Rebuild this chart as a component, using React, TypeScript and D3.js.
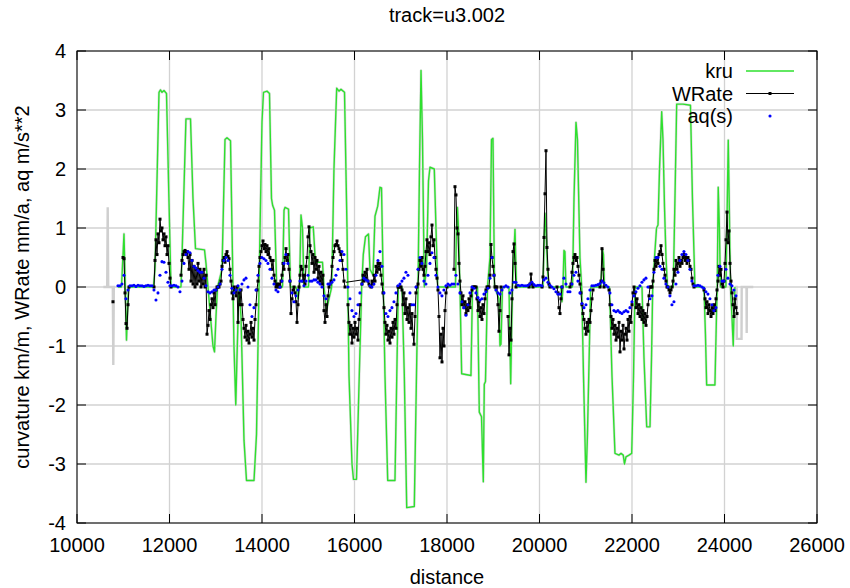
import React from "react";
import * as d3 from "d3";

const xTickValues = [10000, 12000, 14000, 16000, 18000, 20000, 22000, 24000, 26000];
const yTickValues = [-4, -3, -2, -1, 0, 1, 2, 3, 4];
const titleText = "track=u3.002";
const xLabelText = "distance";
const yLabelText = "curvature km/m, WRate mm/a, aq m/s**2";
const legendLabels = ["kru", "WRate", "aq(s)"];

// kru (curvature) polyline: [distance, value]
const kruPoints: [number, number][] = [
  [10886, 0], [10962, 0], [11016, 0.9], [11038, 0.2], [11070, -0.9], [11113, 0], [11654, 0], [11686, 0.3],
  [11773, 3.3], [11805, 3.34], [11838, 3.3], [11881, 3.33], [11935, 3.28], [12032, 0], [12248, 0], [12270, 0.5],
  [12356, 2.85], [12454, 2.85], [12508, 1.5], [12562, 0.65], [12757, 0.63], [12789, 0.4], [12832, 0], [12940, -1.0],
  [12973, -1.1], [13005, -0.5], [13038, 0], [13135, 0.3], [13200, 2.5], [13243, 2.53], [13319, 2.48], [13362, 0.5],
  [13394, -1.0], [13433, -2.0], [13459, -1.2], [13502, 0], [13546, -0.5], [13611, -2.6], [13665, -3.28], [13827, -3.28],
  [13881, -2.5], [13935, 0], [14000, 2.8], [14032, 3.3], [14108, 3.32], [14162, 3.28], [14205, 1.5], [14231, 1.38],
  [14270, 1.3], [14318, 0], [14443, 0], [14476, 1.3], [14497, 1.35], [14573, 1.32], [14616, 0], [14735, 0],
  [14778, -0.2], [14811, 0], [14843, 1.22], [14876, 1.0], [14908, 0], [15005, 0], [15037, 1.0], [15108, 1.02],
  [15156, 0.42], [15308, 0.42], [15340, 0], [15394, -0.4], [15448, -0.2], [15507, 0], [15556, 2.0], [15615, 3.37],
  [15664, 3.32], [15708, 3.35], [15784, 3.3], [15838, 1.0], [15881, -1.5], [15946, -3.0], [15978, -3.26], [16043, -3.26],
  [16086, -2.0], [16155, 0], [16190, 0.55], [16237, 0.85], [16302, 0.9], [16335, 0.3], [16400, 0.2], [16443, 1.2],
  [16502, 1.37], [16551, 1.69], [16584, 1.68], [16623, 0], [16659, -1.5], [16718, -3.28], [16875, -3.28], [16947, 0],
  [17027, 0], [17077, -1.5], [17129, -3.74], [17293, -3.72], [17340, -1.5], [17373, 0], [17405, 2.0], [17438, 3.67],
  [17470, 2.5], [17509, 0], [17556, 0.3], [17600, 1.8], [17632, 2.03], [17725, 2.0], [17799, 0], [18183, 0],
  [18205, 1.0], [18226, 1.35], [18248, 1.0], [18280, 0], [18317, -1.47], [18518, -1.5], [18551, 0], [18659, 0],
  [18698, -2.12], [18746, -2.2], [18785, -3.3], [18806, -1.65], [18832, -1.6], [18875, 0], [18929, 0.5], [18962, 2.5],
  [18994, 2.52], [19027, 0], [19124, -0.2], [19145, -1.0], [19167, -0.97], [19199, 0], [19340, 0], [19377, -1.64],
  [19416, 0], [19448, 0.6], [19470, 0.98], [19502, 0], [20075, 0], [20118, 1.25], [20151, 0.8], [20172, 0.3],
  [20205, 0], [20464, 0], [20486, -0.25], [20507, 0], [20529, 0.62], [20550, 0.6], [20572, 0], [20713, 0],
  [20746, 1.5], [20789, 2.79], [20821, 2.5], [20875, 0.5], [20912, 0], [20951, -1.5], [21005, -3.31], [21037, -2.5],
  [21107, 0], [21329, 0], [21362, 0.64], [21383, 0.55], [21405, 0], [21513, 0], [21567, -1.5], [21632, -2.82],
  [21718, -2.85], [21762, -2.82], [21811, -2.85], [21837, -3.0], [21870, -2.88], [21935, -2.85], [21994, -2.82], [22033, -1.5],
  [22065, 0], [22216, 0], [22259, -1.2], [22318, -2.37], [22389, -2.37], [22422, -1.2], [22448, 0], [22487, 0.5],
  [22530, 1.0], [22562, 1.05], [22595, 2.0], [22642, 2.97], [22670, 2.5], [22703, 1.35], [22735, 0.5], [22767, 0],
  [22892, 0], [22929, 1.5], [22966, 3.1], [23102, 3.1], [23264, 3.08], [23307, 1.5], [23361, 0], [23556, 0],
  [23588, -0.8], [23614, -1.66], [23793, -1.66], [23826, -0.5], [23843, 0], [23864, 1.69], [23890, 1.0], [23912, 0],
  [24031, 0], [24081, 2.49], [24107, 1.2], [24129, 0], [24161, -0.5], [24189, -1.0], [24204, -0.5], [24226, 0],
];

// grey reference trace outside the kru range
const grayStart: [number, number][] = [
  [10569, 0], [10653, 0], [10664, 1.35], [10675, 0], [10774, 0], [10785, -1.32], [10796, 0], [10822, 0],
];
const grayEnd: [number, number][] = [
  [24226, 0], [24262, 0], [24266, -0.88], [24368, -0.88], [24372, 0], [24476, 0], [24480, -0.78], [24484, 0], [24622, 0],
];

// WRate runs: start distance, sample spacing, values
const wrateRunStart = [10778, 10995, 11665, 12249, 15816, 15859, 16162, 18151, 19319, 19773, 20054, 20378, 20659, 21308, 21503, 23557];
const wrateRunStep = [21.62, 21.62, 21.62, 21.62, 346, 21.62, 21.62, 21.62, 21.62, 21.62, 21.62, 21.62, 21.62, 21.62, 21.62, 21.62];
const wrateRuns: number[][] = [
  [-0.25],
  [0.5, 0.48, -0.1, -0.62, -0.7, -0.3, 0.0],
  [0.0, 0.45, 0.8, 0.55, 0.9, 0.75, 1.15, 0.95, 1.0, 0.8, 0.9, 0.7, 0.85, 0.55, 0.7, 0.4, 0.15, 0.0],
  [
    0.2, 0.45, 0.55, 0.6, 0.62, 0.55, 0.6, 0.5, 0.3, 0.55,
    0.1, 0.45, 0.05, 0.35, 0.0, 0.3, 0.05, 0.4, 0.1, 0.3,
    0.0, 0.25, 0.05, 0.3, 0.0, 0.2, -0.8, -0.65, -0.4, -0.55,
    -0.3, -0.2, -0.35, -0.1, -0.3, -0.05, 0.0, 0.0, 0.0, 0.05,
    0.1, 0.35, 0.45, 0.5, 0.42, 0.55, 0.6, 0.52, 0.48, 0.3,
    0.1, -0.1, -0.2, 0.0, -0.05, -0.15, 0.0, -0.6, -0.1, -0.3,
    -0.05, -0.3, -0.55, -0.7, -0.85, -0.65, -0.9, -0.75, -0.95, -0.8,
    -0.6, -0.85, -0.7, -0.9, -0.55, -0.3, -0.05, 0.1, 0.35, 0.5,
    0.6, 0.7, 0.78, 0.65, 0.72, 0.6, 0.7, 0.55, 0.65, 0.5,
    0.45, 0.3, 0.45, 0.2, 0.1, 0.0, 0.05, 0.0, 0.05, 0.0,
    0.1, 0.2, 0.4, 0.3, 0.5, 0.65, 0.45, 0.55, 0.3, 0.1,
    -0.45, -0.2, -0.05, 0.0, -0.1, -0.25, -0.6, -0.3, 0.0, 0.2,
    0.35, 0.3, 0.1, 0.2, 0.05, 0.35, 0.5, 0.85, 1.02, 0.7,
    0.6, 0.4, 0.55, 0.25, 0.5, 0.3, 0.45, 0.15, 0.35, 0.1,
    0.25, 0.05, 0.2, -0.4, -0.6, -0.3, -0.5, -0.15, 0.0, 0.05,
    0.1, 0.35, 0.5, 0.6, 0.7, 0.72, 0.78, 0.7, 0.65, 0.6,
    0.55, 0.45, 0.3, 0.1, 0.0,
  ],
  [0.08, 0.12],
  [-0.3, -0.6, -0.8, -0.65, -0.95, -0.7, -0.85, -0.6, -0.8, -0.7, -0.9, -0.55, -0.3],
  [
    0.05, 0.2, 0.1, 0.25, 0.15, 0.3, 0.1, 0.05, 0.02, 0.0,
    0.1, 0.05, 0.2, 0.1, 0.35, 0.25, 0.4, 0.3, 0.4, 0.2,
    0.05, -0.1, -0.35, -0.6, -0.8, -0.65, -0.9, -0.75, -0.95, -0.7,
    -0.85, -0.6, -0.8, -0.55, -0.7, -0.3, 0.0, 0.0, 0.0, 0.0,
    -0.05, -0.3, -0.1, -0.45, -0.2, -0.55, -0.35, -0.6, -0.3, -0.7,
    -0.45, -0.8, -0.97, -0.5, -0.1, 0.0, 0.05, 0.3, 0.45, 0.35,
    0.5, 0.3, 0.2, 0.35, 0.6, 0.8, 0.6, 0.75, 0.55, 0.85,
    1.05, 0.7, 0.8, 0.5, 0.3, 0.15, -0.05, -0.5, -1.2, -0.8,
    -1.27, -0.7, -1.0, -0.4, -0.1, 0.0,
  ],
  [
    0.3, 1.7, 1.56, 1.0, 0.9, 0.4, 0.1, -0.1, -0.3, -0.15,
    -0.35, -0.25, -0.45, -0.3, -0.4, -0.2, -0.35, -0.15, -0.05, 0.0,
    0.0, 0.0, 0.0, -0.2, -0.4, -0.25, -0.5, -0.35, -0.55, -0.3,
    -0.45, -0.2, -0.05, 0.0, 0.0, 0.0, 0.2, 0.72, 0.5, 0.35,
    0.2, 0.0, 0.0, 0.0, -0.3, -0.75, -0.4, 0.0,
  ],
  [-0.5, -1.15, -0.7, -0.9, -0.2, 0.6, 0.73, 0.4, 0.0],
  [0.0, 0.05, 0.22, 0.05, 0.0],
  [0.0, 0.17, 0.84, 1.58, 2.31, 0.67, 0.3, 0.05, 0.0],
  [0.0, -0.1, -0.35, -0.45, -0.2, 0.0],
  [
    0.0, 0.05, 0.25, 0.4, 0.5, 0.55, 0.45, 0.5, 0.35, 0.2,
    0.05, -0.1, -0.3, -0.45, -0.55, -0.7, -0.8, -0.6, -0.75, -0.55,
    -0.6, -0.4, -0.2, -0.05,
  ],
  [0.0, 0.1, 0.65, 0.3, 0.0],
  [
    -0.05, -0.3, -0.5, -0.7, -0.55, -0.8, -0.65, -0.9, -0.7, -0.85,
    -0.6, -1.1, -0.75, -0.9, -0.65, -1.05, -0.8, -0.7, -0.9, -0.55,
    -0.75, -0.5, -0.6, -0.3, -0.1, 0.0, -0.1, -0.35, -0.2, -0.45,
    -0.3, -0.5, -0.35, -0.55, -0.4, -0.6, -0.45, -0.65, -0.5, -0.3,
    -0.15, 0.0, 0.0, 0.0, 0.1, 0.3, 0.45, 0.35, 0.5, 0.4,
    0.55, 0.6, 0.7, 0.55, 0.4, 0.3, 0.2, 0.1, 0.0, 0.0,
    -0.05, -0.1, -0.05, 0.0, 0.1, 0.3, 0.2, 0.45, 0.3, 0.4,
    0.5, 0.35, 0.45, 0.4, 0.5, 0.55, 0.45, 0.5, 0.4, 0.5,
    0.45, 0.35, 0.3, 0.15, 0.05, 0.0,
  ],
  [
    -0.05, -0.2, -0.35, -0.25, -0.45, -0.3, -0.4, -0.5, -0.35, -0.45,
    -0.3, -0.4, -0.2, -0.05, 0.1, 0.35, 0.2, 0.3, 0.05, 0.0,
    0.1, 0.4, 0.8, 1.27, 0.75, 0.95, 0.4, 0.1, -0.1, -0.3,
    -0.5, -0.2, -0.35, -0.45,
  ],
];

// aq(s) samples, regular spacing from aqStart
const aqStart = 10886;
const aqStep = 43.24;
const aqValues = [
  0.02, 0.02, 0.05, 0.2, -0.2, -0.05, 0.02, 0.02, 0.03, 0.01,
  0.03, 0.02, 0.02, 0.01, 0.02, 0.03, 0.02, 0.02, -0.05, -0.22,
  -0.1, 0.2, 0.43, 0.42, 0.25, 0.08, 0.02, 0.02, 0.03, 0.02,
  0.0, -0.08, 0.1, 0.4, 0.55, 0.6, 0.58, 0.45, 0.35, 0.32,
  0.28, 0.25, 0.25, 0.15, 0.02, -0.08, -0.1, -0.08, -0.05, -0.05,
  0.0, 0.05, 0.3, 0.45, 0.5, 0.45, 0.2, -0.02, -0.1, -0.05,
  0.02, -0.05, 0.05, 0.12, 0.15, 0.0, -0.3, -0.5, -0.35, -0.05,
  0.2, 0.4, 0.5, 0.48, 0.45, 0.4, 0.3, 0.15, 0.05, -0.05,
  -0.08, 0.0, 0.1, 0.4, 0.55, 0.4, 0.1, -0.1, -0.25, -0.15,
  -0.05, 0.1, 0.1, 0.02, 0.1, 0.2, 0.1, 0.1, 0.12, 0.12,
  0.08, 0.05, 0.0, -0.15, -0.2, 0.05, 0.05, 0.08, 0.12, 0.2,
  0.3, 0.45, 0.6, 0.55, 0.3, 0.0, -0.2, -0.4, -0.5, -0.45,
  -0.3, -0.1, 0.05, 0.15, 0.12, 0.1, 0.02, 0.0, 0.05, 0.2,
  0.45, 0.6, 0.35, -0.1, -0.45, -0.5, -0.4, -0.35, -0.25, -0.1,
  0.02, 0.05, 0.1, 0.15, 0.25, 0.2, -0.1, -0.3, -0.3, 0.0,
  0.3, 0.5, 0.4, 0.1, 0.05, 0.2, 0.4, 0.58, 0.5, 0.2,
  0.0, -0.1, -0.15, -0.05, 0.02, 0.05, 0.03, 0.05, 0.05, 0.2,
  0.05, -0.1, -0.25, -0.35, -0.48, -0.3, -0.1, 0.0, -0.02, -0.1,
  -0.18, -0.22, -0.2, -0.12, -0.08, -0.02, 0.15, 0.5, 0.2, -0.05,
  -0.1, -0.12, -0.05, 0.0, 0.02, 0.0, -0.1, -0.05, 0.08, 0.08,
  0.03, 0.02, 0.03, 0.02, 0.02, 0.03, 0.05, 0.08, 0.04, 0.02,
  0.03, 0.03, 0.02, 0.12, 0.15, 0.08, 0.03, 0.0, -0.03, -0.08,
  -0.12, -0.12, 0.0, 0.15, 0.05, -0.08, -0.08, 0.05, 0.2, 0.25,
  0.1, -0.1, -0.28, -0.35, -0.3, -0.2, -0.05, 0.02, 0.02, 0.03,
  0.04, 0.06, 0.1, 0.07, 0.03, 0.0, -0.1, -0.3, -0.4, -0.42,
  -0.4, -0.43, -0.45, -0.42, -0.4, -0.42, -0.35, -0.25, -0.15, -0.08,
  -0.02, 0.02, 0.08, 0.12, 0.15, 0.0, -0.2, -0.15, 0.25, 0.5,
  0.5, 0.35, 0.3, 0.15, 0.05, 0.0, -0.15, -0.3, -0.25, 0.05,
  0.25, 0.45, 0.55, 0.6, 0.55, 0.45, 0.3, 0.1, 0.02, 0.02,
  0.03, 0.02, 0.0, -0.02, -0.08, -0.12, -0.2, -0.3, -0.4, -0.35,
  0.2, 0.35, 0.1, 0.1, 0.3, 0.15, 0.05, 0.02, -0.05, -0.15,
];

const FONT = "'Liberation Sans', Arial, Helvetica, sans-serif";
const FS = 20;

export default function App() {
  const left = 77, right = 817, top = 51, bottom = 523;
  const x = d3.scaleLinear().domain([10000, 26000]).range([left, right]);
  const y = d3.scaleLinear().domain([-4, 4]).range([bottom, top]);
  const line = d3
    .line<[number, number]>()
    .x((d) => x(d[0]))
    .y((d) => y(d[1]));

  const wratePts: [number, number][][] = wrateRuns.map((run, i) =>
    run.map((v, j) => [wrateRunStart[i] + j * wrateRunStep[i], v] as [number, number])
  );
  const wrateMarkerPts = wratePts.filter((_, i) => wrateRunStep[i] < 100).flat();
  const aqPts: [number, number][] = aqValues.map((v, i) => [aqStart + i * aqStep, v]);

  const green = "#2ee02e";
  const gridColor = "#d2d2d2";
  const tickLen = 9;

  const legX = 733;
  const legLineX0 = 746;
  const legLineX1 = 794;
  const legY = [71, 93.5, 116];

  return (
    <svg
      width={850}
      height={588}
      style={{ position: "absolute", left: 0, top: 0, background: "#fff" }}
      fontFamily={FONT}
    >
      <rect x={0} y={0} width={850} height={588} fill="#fff" />
      <defs>
        <clipPath id="plotClip">
          <rect x={left} y={top} width={right - left} height={bottom - top} />
        </clipPath>
      </defs>

      {/* grid */}
      <g stroke={gridColor} strokeWidth={1.3}>
        {xTickValues.map((t) => (
          <line key={"gx" + t} x1={x(t)} x2={x(t)} y1={top} y2={bottom} />
        ))}
        {yTickValues.map((t) => (
          <line key={"gy" + t} x1={left} x2={right} y1={y(t)} y2={y(t)} />
        ))}
      </g>

      <g clipPath="url(#plotClip)">
        {/* grey traces */}
        <path d={line(grayStart) || ""} fill="none" stroke="#cfcfcf" strokeWidth={2.4} />
        <path d={line(grayEnd) || ""} fill="none" stroke="#cfcfcf" strokeWidth={2.4} />
        <path d={line(kruPoints) || ""} fill="none" stroke="#dedede" strokeWidth={2.6} strokeLinejoin="round" />
        {/* kru */}
        <path d={line(kruPoints) || ""} fill="none" stroke={green} strokeWidth={1.4} strokeLinejoin="round" />
        {/* WRate */}
        {wratePts.map((pts, i) => (
          <path key={"w" + i} d={line(pts) || ""} fill="none" stroke="#000" strokeWidth={1} />
        ))}
        {wrateMarkerPts.map((p, i) => (
          <rect key={"wm" + i} x={x(p[0]) - 1.5} y={y(p[1]) - 1.5} width={3} height={3} fill="#000" />
        ))}
        {/* aq(s) */}
        {aqPts.map((p, i) => (
          <circle key={"a" + i} cx={x(p[0])} cy={y(p[1])} r={1.55} fill="#0000ff" />
        ))}
      </g>

      {/* border */}
      <rect x={left} y={top} width={right - left} height={bottom - top} fill="none" stroke="#000" strokeWidth={1} />

      {/* ticks */}
      <g stroke="#000" strokeWidth={1}>
        {xTickValues.map((t) => (
          <g key={"tx" + t}>
            <line x1={x(t)} x2={x(t)} y1={bottom} y2={bottom - tickLen} />
            <line x1={x(t)} x2={x(t)} y1={top} y2={top + tickLen} />
          </g>
        ))}
        {yTickValues.map((t) => (
          <g key={"ty" + t}>
            <line x1={left} x2={left + tickLen} y1={y(t)} y2={y(t)} />
            <line x1={right} x2={right - tickLen} y1={y(t)} y2={y(t)} />
          </g>
        ))}
      </g>

      {/* tick labels */}
      <g fontSize={FS} fill="#000">
        {xTickValues.map((t) => (
          <text key={"lx" + t} x={x(t)} y={552} textAnchor="middle">
            {t}
          </text>
        ))}
        {yTickValues.map((t) => (
          <text key={"ly" + t} x={66} y={y(t) + 7} textAnchor="end">
            {t}
          </text>
        ))}
      </g>

      {/* title and axis labels */}
      <text x={(left + right) / 2} y={22} fontSize={FS} textAnchor="middle">
        {titleText}
      </text>
      <text x={(left + right) / 2} y={584} fontSize={FS} textAnchor="middle">
        {xLabelText}
      </text>
      <text
        x={0}
        y={0}
        fontSize={FS}
        textAnchor="middle"
        transform={`translate(29, ${(top + bottom) / 2}) rotate(-90)`}
      >
        {yLabelText}
      </text>

      {/* legend */}
      <g fontSize={FS}>
        {legendLabels.map((lab, i) => (
          <text key={"leg" + i} x={legX} y={legY[i] + 7} textAnchor="end">
            {lab}
          </text>
        ))}
        <line x1={legLineX0} x2={legLineX1} y1={legY[0]} y2={legY[0]} stroke={green} strokeWidth={1.4} />
        <line x1={legLineX0} x2={legLineX1} y1={legY[1]} y2={legY[1]} stroke="#000" strokeWidth={1} />
        <rect x={(legLineX0 + legLineX1) / 2 - 1.5} y={legY[1] - 1.5} width={3} height={3} fill="#000" />
        <circle cx={(legLineX0 + legLineX1) / 2} cy={legY[2]} r={1.55} fill="#0000ff" />
      </g>
    </svg>
  );
}
